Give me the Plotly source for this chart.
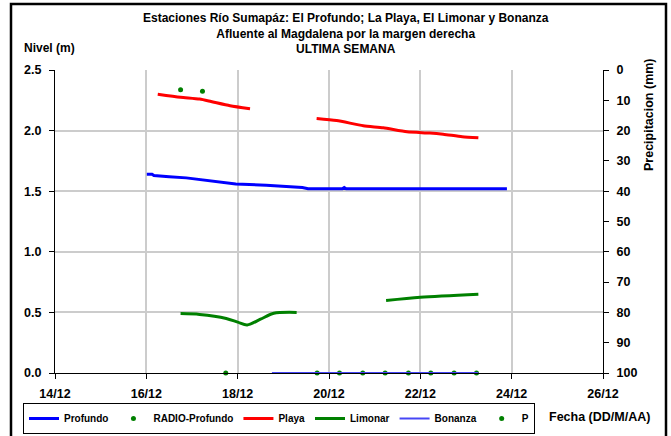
import plotly.graph_objects as go

# ---------------- data ----------------
profundo_t = ["2010-12-16 00:15", "2010-12-16 03:00", "2010-12-16 04:00", "2010-12-16 09:00",
              "2010-12-16 12:00", "2010-12-16 21:00", "2010-12-17 02:00", "2010-12-17 07:00",
              "2010-12-17 12:00", "2010-12-17 17:00", "2010-12-17 23:00", "2010-12-18 15:00",
              "2010-12-19 02:00", "2010-12-19 10:00", "2010-12-19 13:00", "2010-12-20 07:00",
              "2010-12-20 08:00", "2010-12-20 09:00", "2010-12-23 21:30"]
profundo_v = [1.64, 1.64, 1.63, 1.62, 1.62, 1.61, 1.60, 1.59, 1.58, 1.57, 1.56, 1.55,
              1.54, 1.53, 1.52, 1.52, 1.53, 1.52, 1.52]

radio_t = ["2010-12-17 17:45", "2010-12-19 17:45", "2010-12-20 05:30", "2010-12-20 17:45",
           "2010-12-21 05:30", "2010-12-21 17:45", "2010-12-22 05:30", "2010-12-22 17:45",
           "2010-12-23 05:30"]
radio_v = [0, 0, 0, 0, 0, 0, 0, 0, 0]

playa_t = ["2010-12-16 06:00", "2010-12-16 18:00", "2010-12-17 04:00", "2010-12-17 10:00",
           "2010-12-17 20:00", "2010-12-18 06:30", "2010-12-19 00:00",
           "2010-12-19 17:30", "2010-12-20 04:00", "2010-12-20 18:00", "2010-12-21 04:30",
           "2010-12-21 17:00", "2010-12-22 05:00", "2010-12-22 12:00", "2010-12-22 22:00",
           "2010-12-23 06:30"]
playa_v = [2.30, 2.275, 2.26, 2.24, 2.205, 2.18, None,
           2.10, 2.083, 2.04, 2.023, 1.99, 1.98, 1.97, 1.95, 1.94]

limonar_t = ["2010-12-16 18:00", "2010-12-17 04:00", "2010-12-17 18:00", "2010-12-18 00:00",
             "2010-12-18 05:00", "2010-12-18 12:00", "2010-12-18 19:00", "2010-12-19 07:00",
             "2010-12-20 12:00",
             "2010-12-21 06:00", "2010-12-22 00:00", "2010-12-23 06:30"]
limonar_v = [0.49, 0.483, 0.45, 0.42, 0.397, 0.444, 0.493, 0.50,
             None,
             0.598, 0.625, 0.65]

bonanza_t = ["2010-12-18 18:00", "2010-12-20 12:00", "2010-12-22 00:00", "2010-12-23 06:30"]
bonanza_v = [0, 0, 0, 0]

p_t = ["2010-12-16 18:00", "2010-12-17 05:30"]
p_v = [6.5, 7.0]

x_ticks = ["2010-12-14", "2010-12-16", "2010-12-18", "2010-12-20",
           "2010-12-22", "2010-12-24", "2010-12-26"]

# ---------------- figure ----------------
FONT = "Liberation Sans, Arial, sans-serif"
fig = go.Figure()
fig.add_trace(go.Scatter(x=profundo_t, y=profundo_v, name="Profundo", mode="lines",
                         line=dict(color="#0000FF", width=3)))
fig.add_trace(go.Scatter(x=radio_t, y=radio_v, name="RADIO-Profundo", mode="markers",
                         marker=dict(color="#008000", size=5), cliponaxis=False))
fig.add_trace(go.Scatter(x=playa_t, y=playa_v, name="Playa", mode="lines",
                         line=dict(color="#FF0000", width=3, shape="spline", smoothing=0.6),
                         connectgaps=False))
fig.add_trace(go.Scatter(x=limonar_t, y=limonar_v, name="Limonar", mode="lines",
                         line=dict(color="#008000", width=3, shape="spline", smoothing=0.8),
                         connectgaps=False))
fig.add_trace(go.Scatter(x=bonanza_t, y=bonanza_v, name="Bonanza", mode="lines",
                         line=dict(color="#4646F5", width=2), cliponaxis=False))
fig.add_trace(go.Scatter(x=p_t, y=p_v, name="P", mode="markers", yaxis="y2",
                         marker=dict(color="#008000", size=5)))

L, R, T, B = 55, 68, 70, 63
W, H = 671, 436
pw, ph = W - L - R, H - T - B


def px(x):
    return (x - L) / pw


def py(y):
    return (H - B - y) / ph


fig.update_layout(
    width=W, height=H,
    margin=dict(l=L, r=R, t=T, b=B, autoexpand=False),
    paper_bgcolor="white", plot_bgcolor="white",
    font=dict(family=FONT, color="black", size=12, weight="bold"),
    showlegend=True,
    legend=dict(orientation="h", x=px(23), y=py(403), xanchor="left", yanchor="top",
                bordercolor="black", borderwidth=1, bgcolor="white",
                font=dict(family=FONT, size=10, weight="bold"),
                itemwidth=30, tracegroupgap=0),
    xaxis=dict(type="date", range=[x_ticks[0], x_ticks[-1]], tickvals=x_ticks,
               tickformat="%d/%m", showgrid=True, gridcolor="#cccccc", gridwidth=1.5,
               showline=True, linecolor="black", linewidth=1, ticks="outside", ticklen=5,
               tickcolor="black", zeroline=False, ticklabelstandoff=4,
               tickfont=dict(size=12.5, weight="bold")),
    yaxis=dict(range=[0, 2.5], dtick=0.5, tickformat=".1f", showgrid=True,
               gridcolor="#cccccc", gridwidth=1.5, showline=True, linecolor="black",
               linewidth=1, ticks="outside", ticklen=5, tickcolor="black",
               zeroline=False, ticklabelstandoff=5, tickfont=dict(size=12.5, weight="bold")),
    yaxis2=dict(range=[100, 0], dtick=10, overlaying="y", side="right", showgrid=False,
                showline=True, linecolor="black", linewidth=1, ticks="outside",
                ticklen=5, tickcolor="black", zeroline=False, ticklabelstandoff=5,
                tickfont=dict(size=12.5, weight="bold")),
)

ann = dict(xref="paper", yref="paper", showarrow=False,
           font=dict(family=FONT, size=12.5, weight="bold", color="black"))
title_font = dict(family=FONT, size=12, weight="bold", color="black")
fig.add_annotation(x=px(346), y=py(34),
                   text="Estaciones Río Sumapáz: El Profundo; La Playa, El Limonar y Bonanza"
                        "<br>Afluente al Magdalena por la margen derecha<br>ULTIMA SEMANA",
                   xanchor="center", yanchor="middle", xref="paper", yref="paper",
                   showarrow=False, font=title_font)
fig.add_annotation(x=px(22), y=py(48), text="Nivel (m)", xanchor="left", yanchor="middle",
                   xref="paper", yref="paper", showarrow=False,
                   font=dict(family=FONT, size=12, weight="bold", color="black"))
fig.add_annotation(x=px(547), y=py(417), text="Fecha (DD/M/AA)", xanchor="left",
                   yanchor="middle", **ann)
fig.add_annotation(x=px(649), y=py(115), text="Precipitacion (mm)", textangle=-90,
                   xanchor="center", yanchor="middle", **ann)

# outer frame
fig.add_shape(type="rect", xref="paper", yref="paper",
              x0=px(11), x1=px(666), y0=py(445), y1=py(4),
              line=dict(color="black", width=2.5), fillcolor="rgba(0,0,0,0)", layer="below")

fig.write_html("out.html", config={"displayModeBar": False},
               post_script="document.body.style.margin='0px';")
